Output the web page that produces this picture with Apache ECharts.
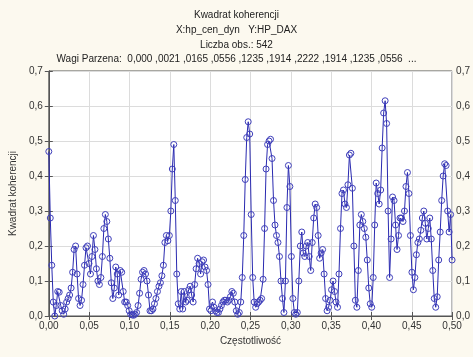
<!DOCTYPE html>
<html>
<head>
<meta charset="utf-8">
<script src="https://cdn.jsdelivr.net/npm/echarts@6/dist/echarts.min.js"></script>
<style>
html,body{margin:0;padding:0;background:#fcf9ef;}
#c{width:473px;height:357px;}
</style>
</head>
<body>
<div id="c"></div>
<script>
const titleLines = ["Kwadrat koherencji", "X:hp_cen_dyn   Y:HP_DAX", "Liczba obs.: 542", "Wagi Parzena:  0,000 ,0021 ,0165 ,0556 ,1235 ,1914 ,2222 ,1914 ,1235 ,0556  ..."];
const xTitle = "Częstotliwość";
const yTitle = "Kwadrat koherencji";
const nObs = 542;
const coherence = [
0.47,0.28,0.145,0.04,0.0,0.03,0.07,0.068,0.03,0.015,
0.005,0.02,0.04,0.05,0.06,0.08,0.125,0.19,0.2,0.12,
0.05,0.03,0.045,0.09,0.145,0.195,0.2,0.15,0.12,0.17,
0.23,0.19,0.135,0.1,0.09,0.11,0.17,0.25,0.29,0.27,
0.22,0.165,0.095,0.05,0.08,0.14,0.12,0.06,0.13,0.125,
0.07,0.04,0.04,0.03,0.015,0.005,0.003,0.002,0.005,0.01,
0.03,0.065,0.105,0.125,0.13,0.12,0.1,0.06,0.015,0.015,
0.02,0.035,0.05,0.07,0.085,0.095,0.115,0.145,0.21,0.23,
0.215,0.23,0.3,0.42,0.49,0.33,0.12,0.035,0.02,0.07,
0.02,0.07,0.04,0.045,0.075,0.085,0.06,0.04,0.09,0.135,
0.165,0.15,0.12,0.155,0.16,0.14,0.13,0.09,0.02,0.015,
0.04,0.025,0.015,0.01,0.01,0.02,0.03,0.04,0.045,0.045,
0.04,0.045,0.055,0.07,0.065,0.04,0.015,0.005,0.01,0.04,
0.11,0.23,0.39,0.51,0.555,0.52,0.29,0.11,0.04,0.025,
0.035,0.04,0.045,0.05,0.105,0.25,0.42,0.49,0.5,0.505,
0.45,0.33,0.26,0.23,0.21,0.17,0.1,0.05,0.01,0.1,
0.31,0.43,0.37,0.17,0.05,0.01,0.005,0.01,0.1,0.2,
0.24,0.18,0.17,0.2,0.21,0.17,0.13,0.21,0.28,0.32,
0.31,0.23,0.165,0.18,0.19,0.12,0.05,0.015,0.025,0.045,
0.075,0.1,0.07,0.04,0.025,0.12,0.25,0.35,0.36,0.32,
0.31,0.375,0.46,0.465,0.365,0.2,0.045,0.025,0.13,0.26,
0.29,0.27,0.25,0.225,0.16,0.08,0.035,0.025,0.11,0.26,
0.38,0.35,0.32,0.36,0.48,0.58,0.615,0.55,0.3,0.11,
0.22,0.34,0.33,0.26,0.19,0.23,0.28,0.28,0.27,0.3,
0.37,0.41,0.35,0.23,0.125,0.075,0.11,0.175,0.21,0.22,
0.245,0.28,0.3,0.265,0.22,0.25,0.28,0.22,0.13,0.05,
0.025,0.055,0.16,0.24,0.33,0.4,0.435,0.43,0.3,0.24,
0.29,0.16
];
const seriesData = coherence.map((v, k) => [k / nObs, v]);

const chart = echarts.init(document.getElementById('c'), null, {renderer: 'canvas'});
const fmt1 = v => v.toFixed(1).replace('.', ',');
const fmt2 = v => v.toFixed(2).replace('.', ',');
const font = 'Liberation Sans';
const axisCommon = {
  axisLine: {show: true, lineStyle: {color: '#555', width: 1}},
  axisTick: {show: true, inside: true, length: 4, lineStyle: {color: '#555'}},
  splitLine: {show: true, lineStyle: {color: '#dcdcdc', width: 1}},
  axisLabel: {color: '#333', fontFamily: font, fontSize: 10}
};
chart.setOption({
  animation: false,
  backgroundColor: '#fcf9ef',
  title: {
    text: titleLines.join('\n'),
    left: 'center',
    top: 3,
    textStyle: {fontFamily: font, fontSize: 10, fontWeight: 'normal', color: '#222', lineHeight: 14.7}
  },
  grid: {left: 48, right: 19, top: 71, bottom: 41, show: true, backgroundColor: '#ffffff', borderColor: '#555', borderWidth: 1},
  xAxis: [{
    type: 'value', min: 0, max: 0.5, interval: 0.05,
    name: xTitle, nameLocation: 'middle', nameGap: 20,
    nameTextStyle: {fontFamily: font, fontSize: 10, color: '#333'},
    ...axisCommon,
    axisLabel: {...axisCommon.axisLabel, formatter: fmt2, margin: 5}
  }, {
    type: 'value', min: 0, max: 0.5, interval: 0.05, position: 'top',
    axisLine: axisCommon.axisLine, axisTick: axisCommon.axisTick,
    splitLine: {show: false}, axisLabel: {show: false}
  }],
  yAxis: [{
    type: 'value', min: 0, max: 0.7, interval: 0.1,
    name: yTitle, nameLocation: 'middle', nameGap: 25, nameRotate: 90,
    nameTextStyle: {fontFamily: font, fontSize: 10, color: '#333'},
    ...axisCommon,
    axisLabel: {...axisCommon.axisLabel, formatter: fmt1, margin: 6}
  }, {
    type: 'value', min: 0, max: 0.7, interval: 0.1, position: 'right',
    axisLine: axisCommon.axisLine, axisTick: axisCommon.axisTick,
    splitLine: {show: false},
    axisLabel: {...axisCommon.axisLabel, formatter: fmt1, margin: 4}
  }],
  series: [{
    type: 'line',
    data: seriesData,
    symbol: 'circle',
    symbolSize: 6,
    showAllSymbol: true,
    lineStyle: {color: '#2a2ab0', width: 1},
    itemStyle: {color: 'rgba(0,0,0,0)', borderColor: '#4040bb', borderWidth: 1},
    z: 3
  }]
});
</script>
</body>
</html>
